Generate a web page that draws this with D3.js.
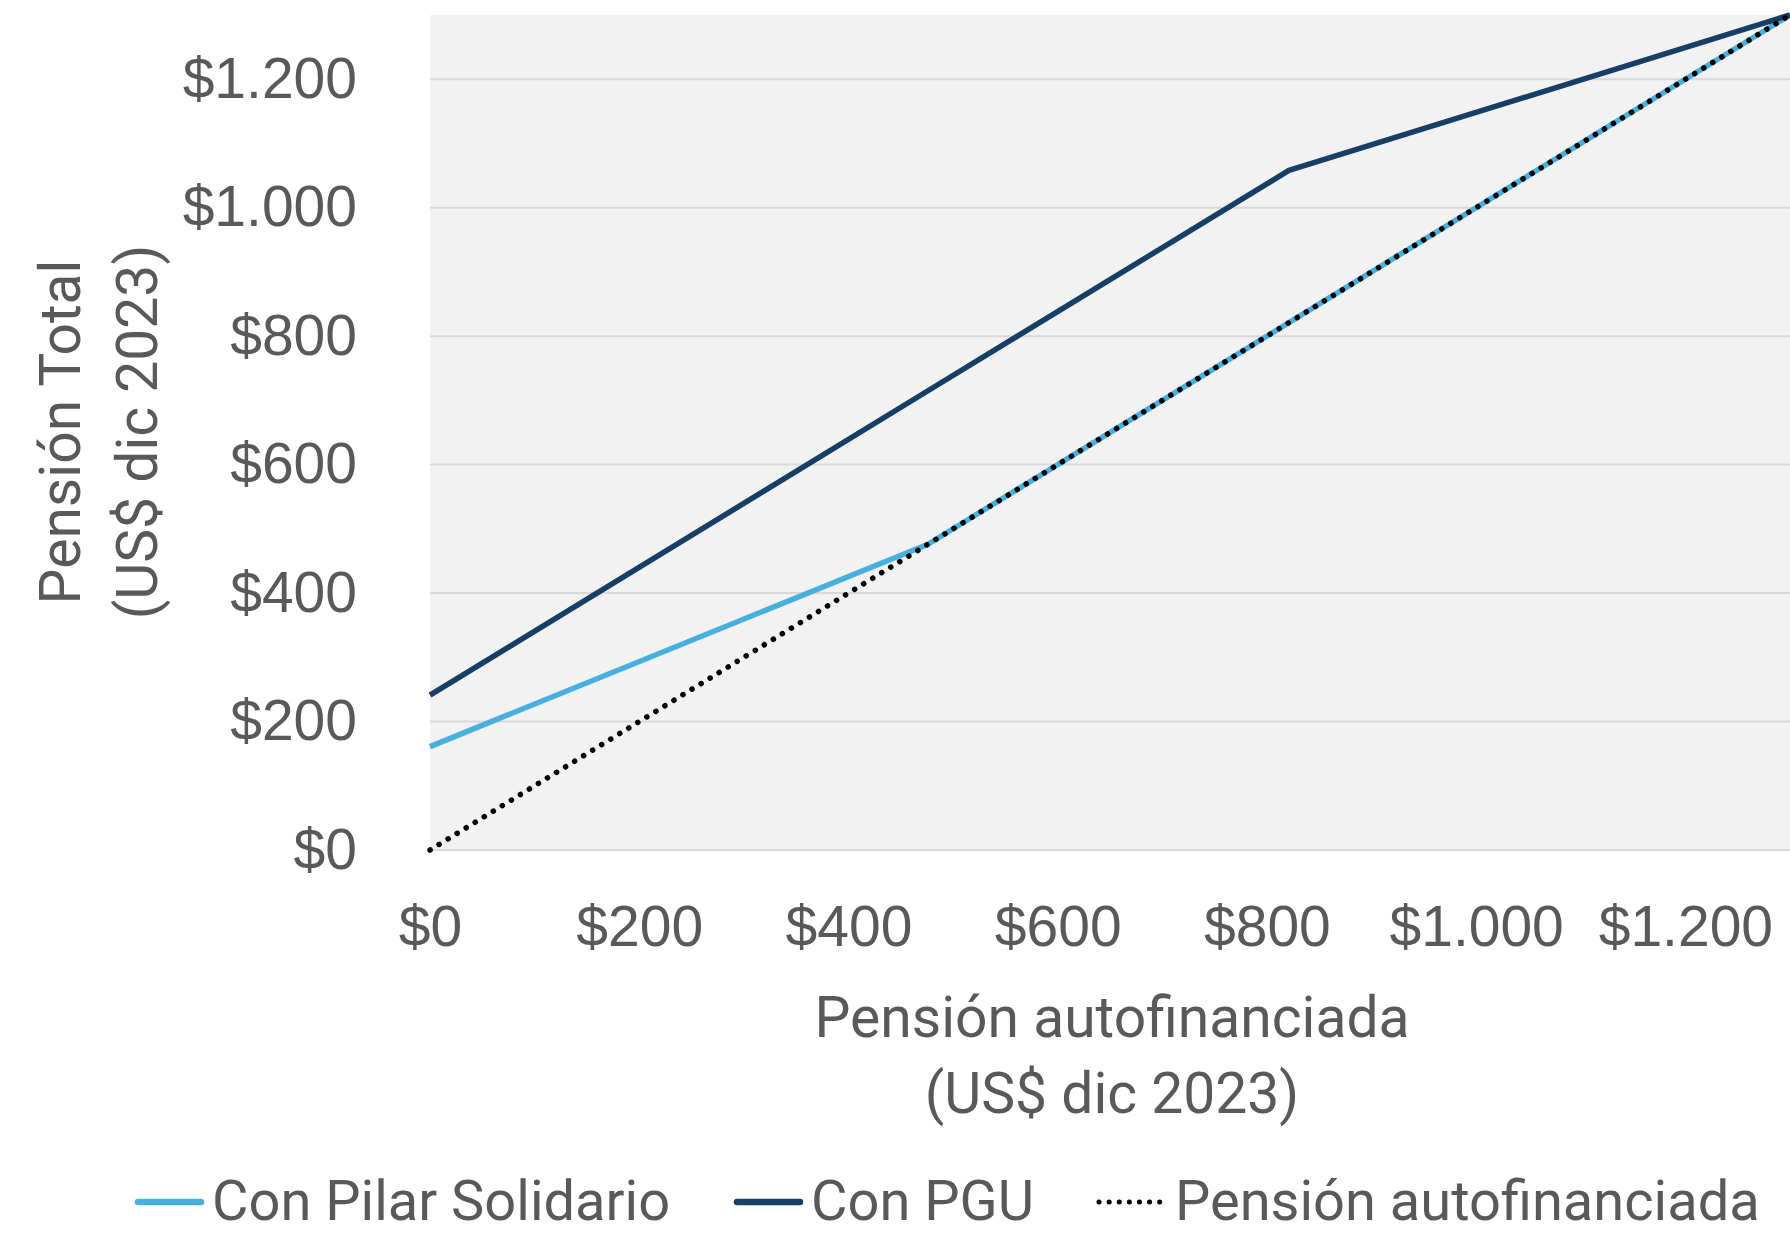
<!DOCTYPE html>
<html>
<head>
<meta charset="utf-8">
<script src="https://cdn.jsdelivr.net/npm/d3@7"></script>
<style>
	body { margin: 0; background: #fff; }
	.tick-label { font-family: 'Liberation Sans', Arial, sans-serif; font-size: 57px; fill: #595959; }
	.title { font-family: Roboto, sans-serif; font-size: 57px; fill: #595959; }
	.legend-label { font-family: Roboto, sans-serif; font-size: 56px; fill: #595959; }
</style>
</head>
<body>
<div id="chart"></div>
<script>
// pension autofinanciada (x) at the kinks of the series
const autofinanciada = [0, 476, 821, 1300];
const conPilarSolidario = [161, 476, 821, 1300];
const conPGU = [241, 715, 1058, 1300];
const pensionAuto = [0, 476, 821, 1300];

const xTicks = [0, 200, 400, 600, 800, 1000, 1200];
const yTicks = [0, 200, 400, 600, 800, 1000, 1200];

const seriesNames = ['Con Pilar Solidario', 'Con PGU', 'Pensión autofinanciada'];
const seriesColors = ['#48b0e0', '#173f66', '#000000'];

const width = 1790,
	height = 1236;

const plot = { left: 430, right: 1790, top: 15, bottom: 850 };

const fmt = (v) => '$' + d3.format(',')(v).replace(/,/g, '.');

let svg = d3.select('#chart').append('svg')
	.attr('width', width)
	.attr('height', height);

let x = d3.scaleLinear().domain([0, 1300]).range([plot.left, plot.right]);
let y = d3.scaleLinear().domain([0, 1300]).range([plot.bottom, plot.top]);

// plot background
svg.append('rect')
	.attr('x', plot.left)
	.attr('y', plot.top)
	.attr('width', plot.right - plot.left)
	.attr('height', plot.bottom - plot.top)
	.attr('fill', '#f2f2f2');

// gridlines
svg.append('g')
	.selectAll('line')
	.data(yTicks)
	.enter()
	.append('line')
	.attr('x1', plot.left)
	.attr('x2', plot.right)
	.attr('y1', (d) => y(d))
	.attr('y2', (d) => y(d))
	.attr('stroke', '#d9d9d9')
	.attr('stroke-width', 2);

// y axis labels
let yAxis = d3.axisLeft(y).tickValues(yTicks).tickFormat(fmt).tickSize(0).tickPadding(73);
svg.append('g')
	.attr('transform', `translate(${plot.left},0)`)
	.call(yAxis)
	.call((g) => g.select('.domain').remove())
	.selectAll('text')
	.attr('class', 'tick-label')
	.attr('font-family', null)
	.attr('font-size', null)
	.attr('fill', null);

// x axis labels
let xAxis = d3.axisBottom(x).tickValues(xTicks).tickFormat(fmt).tickSize(0).tickPadding(56);
svg.append('g')
	.attr('transform', `translate(0,${plot.bottom})`)
	.call(xAxis)
	.call((g) => g.select('.domain').remove())
	.selectAll('text')
	.attr('class', 'tick-label')
	.attr('font-family', null)
	.attr('font-size', null)
	.attr('fill', null);

// lines
let line = d3.line()
	.x((d) => x(d[0]))
	.y((d) => y(d[1]));

const series = [conPilarSolidario, conPGU, pensionAuto];

series.forEach((values, i) => {
	let path = svg.append('path')
		.datum(autofinanciada.map((a, j) => [a, values[j]]))
		.attr('fill', 'none')
		.attr('stroke', seriesColors[i])
		.attr('d', line);

	if(i === 2) {
		path.attr('stroke-width', 5.5)
			.attr('stroke-linecap', 'round')
			.attr('stroke-dasharray', '0.1 10.5');
	}
	else {
		path.attr('stroke-width', 5.5)
			.attr('stroke-linejoin', 'round');
	}
});

// axis titles
let yTitle = svg.append('text')
	.attr('class', 'title')
	.attr('transform', 'translate(80,432) rotate(-90)')
	.attr('text-anchor', 'middle');
yTitle.append('tspan').attr('x', 0).attr('y', 0).text('Pensión Total');
yTitle.append('tspan').attr('x', 0).attr('y', 77).text('(US$ dic 2023)');

let xTitle = svg.append('text')
	.attr('class', 'title')
	.attr('text-anchor', 'middle');
xTitle.append('tspan').attr('x', 1112).attr('y', 1037).text('Pensión autofinanciada');
xTitle.append('tspan').attr('x', 1112).attr('y', 1113).text('(US$ dic 2023)');

// legend
const legendX = [135, 734, 1096];
let legend = svg.append('g');

seriesNames.forEach((name, i) => {
	let g = legend.append('g').attr('transform', `translate(${legendX[i]},1202)`);

	let sw = g.append('line')
		.attr('x1', 3)
		.attr('x2', 66)
		.attr('y1', 0)
		.attr('y2', 0)
		.attr('stroke', seriesColors[i])
		.attr('stroke-linecap', 'round');

	if(i === 2) {
		sw.attr('stroke-width', 5).attr('stroke-dasharray', '0.1 10');
	}
	else {
		sw.attr('stroke-width', 6.5);
	}

	g.append('text')
		.attr('class', 'legend-label')
		.attr('x', i === 2 ? 79 : 77)
		.attr('y', 18)
		.text(name);
});
</script>
</body>
</html>
